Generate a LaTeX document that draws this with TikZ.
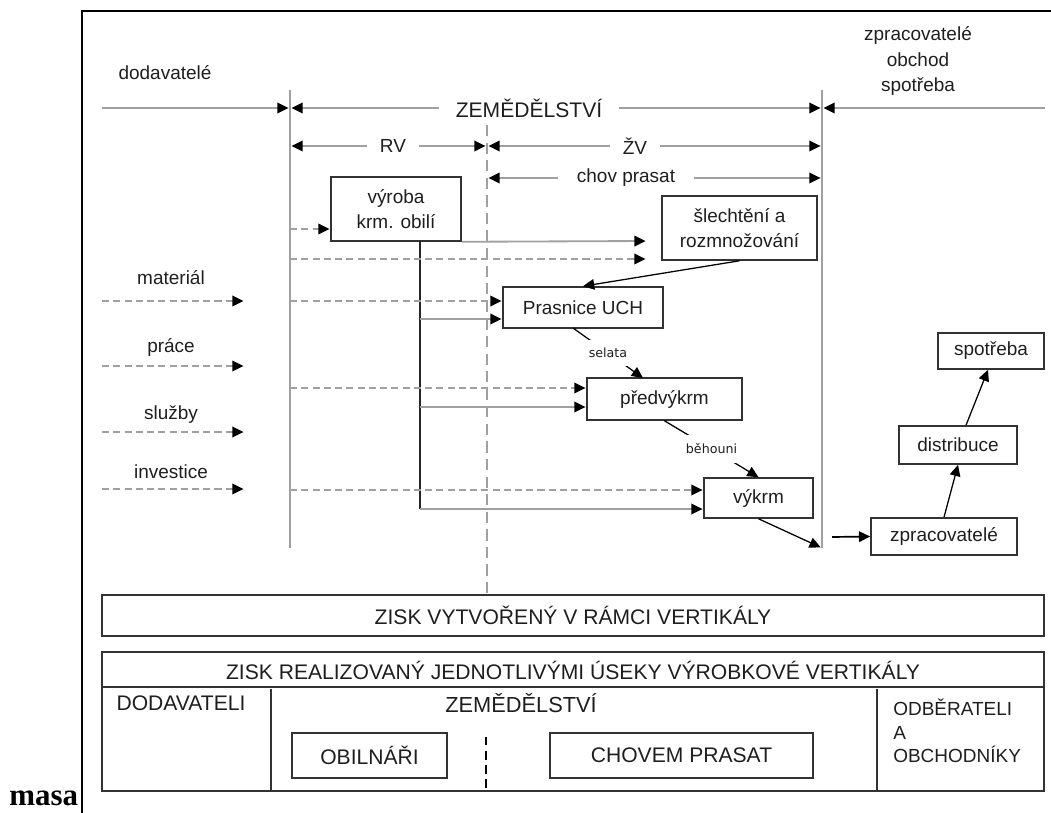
\documentclass[tikz,border=0pt]{standalone}
\usepackage{fontspec}
\setmainfont{Liberation Sans}
\newfontfamily\tagfont{DejaVu Sans}
\newfontfamily\masafont{Liberation Serif}
\usepackage{xcolor}
\definecolor{line-gray}{RGB}{160,160,160}
\definecolor{text-dark}{RGB}{30,30,30}
\usetikzlibrary{arrows.meta,positioning,calc}

\begin{document}
\begin{tikzpicture} [ % 1 jednotka = 1 px obrazku
    x=0.025cm, y=-0.025cm, text=text-dark,
    font=\fontsize{13.5}{18}\selectfont,
    tip/.style = {-{Triangle[length=8pt,width=7.5pt,color=black]}},
    gline/.style = {draw=line-gray, line width=1.3pt},
    gdash/.style = {gline, dash pattern=on 5pt off 3pt},
    garr/.style = {gline, tip, shorten >=1pt},
    gdarr/.style = {gdash, tip, shorten >=1pt},
    barr/.style = {draw=black, line width=0.9pt, tip},
    box/.style = {shape=rectangle, draw=black!80, line width=1.1pt, align=center, inner sep=2pt},
    caps/.style = {font=\fontsize{15}{18}\selectfont},
    dim/.style = {inner ysep=0pt},
    tag/.style = {fill=white, inner xsep=2pt, inner ysep=6pt, font=\tagfont\fontsize{9}{10}\selectfont}
]

\useasboundingbox (0,0) rectangle (1051,813);

% ramecek
\draw [line width=1pt] (1051,11) -- (82,11) -- (82,813);
\node [anchor=base west, inner sep=0pt, text=black, font=\masafont\bfseries\fontsize{22}{24}\selectfont] (masa) at (9,805) {masa};

% hlavicka
\node (dod) at (165,73) {dodavatelé};
\node [align=center] (zpr) at (918,61) {zpracovatelé\\obchod\\spotřeba};

% svisle cary
\coordinate (va) at (290,90);
\coordinate (vab) at (290,548);
\coordinate (vb) at (822,90);
\coordinate (vbb) at (822,548);
\coordinate (vd) at (487,125);
\coordinate (le) at (102,108);
\coordinate (re) at (1045,108);

\draw [gline] (va) -- (vab);
\draw [gline] (vb) -- (vbb);

% useky
\node [dim, caps, inner xsep=12pt] (zem) at (529,108) {ZEMĚDĚLSTVÍ};
\node [dim, inner xsep=9pt] (rv) at (393,146) {RV};
\node [dim, inner xsep=9pt] (zv) at (635,146) {ŽV};
\node [dim, inner xsep=13pt] (chov) at (626,178) {chov prasat};

\draw [garr] (le) -- (va |- zem);
\draw [garr] (zem) -- (va |- zem);
\draw [garr] (zem) -- (vb |- zem);
\draw [garr] (re) -- (vb |- zem);
\draw [garr] (rv) -- (va |- rv);
\draw [garr] (rv) -- (vd |- rv);
\draw [garr] (zv) -- (vd |- zv);
\draw [garr] (zv) -- (vb |- zv);
\draw [garr] (chov) -- (vd |- chov);
\draw [garr] (chov) -- (vb |- chov);

% bloky
\node [box, minimum width=3.25cm, minimum height=1.6cm] (vyr) at (396,209) {výroba\\krm. obilí};
\node [box, minimum width=3.875cm, minimum height=1.6cm] (sle) at (739.5,228) {šlechtění a\\rozmnožování};
\node [box, minimum width=4cm, minimum height=1.025cm] (pra) at (583,307.5) {Prasnice UCH};
\node [box, minimum width=3.875cm, minimum height=1.05cm] (pre) at (664.5,399) {předvýkrm};
\node [box, minimum width=2.725cm, minimum height=1cm] (vyk) at (758.5,498) {výkrm};
\node [box, minimum width=3.65cm, minimum height=0.925cm] (zpc) at (944,536.5) {zpracovatelé};
\node [box, minimum width=2.95cm, minimum height=0.95cm] (dis) at (958,445) {distribuce};
\node [box, minimum width=2.65cm, minimum height=0.9cm] (spo) at (991,351) {spotřeba};

% vstupy vlevo
\node (mat) at (171,278) {materiál};
\node (pra-l) at (171,347) {práce};
\node (slu) at (171,415) {služby};
\node (inv) at (171,472) {investice};

\coordinate (in1) at (102,301);  \coordinate (in1t) at (245,301);
\coordinate (in2) at (102,366);  \coordinate (in2t) at (245,366);
\coordinate (in3) at (102,432);  \coordinate (in3t) at (245,432);
\coordinate (in4) at (102,489);  \coordinate (in4t) at (245,489);

\draw [gdarr] (in1) -- (in1t);
\draw [gdarr] (in2) -- (in2t);
\draw [gdarr] (in3) -- (in3t);
\draw [gdarr] (in4) -- (in4t);

% krmivo a vstupy do bloku
\coordinate (kr) at (420,241);
\coordinate (krb) at (420,509);
\coordinate (vyr-in) at (331,229);
\coordinate (sle-a) at (647,241);
\coordinate (sle-b) at (647,259);
\coordinate (pra-a) at (503,301);
\coordinate (pra-b) at (503,319);
\coordinate (pre-a) at (587,388);
\coordinate (pre-b) at (587,407);
\coordinate (vyk-a) at (704,490);
\coordinate (vyk-b) at (704,509);

\draw [draw=black!85, line width=0.8pt] (kr) -- (krb);

\draw [gdarr] (va |- vyr-in) -- (vyr-in);
\draw [garr] (vyr.south east) -- (sle-a);
\draw [gdarr] (va |- sle-b) -- (sle-b);
\draw [gdarr] (va |- pra-a) -- (pra-a);
\draw [garr] (kr |- pra-b) -- (pra-b);
\draw [gdarr] (va |- pre-a) -- (pre-a);
\draw [garr] (kr |- pre-b) -- (pre-b);
\draw [gdarr] (va |- vyk-a) -- (vyk-a);
\draw [garr] (krb) -- (vyk-b);

% tok zvirat
\coordinate (sel-a) at (573,328);
\coordinate (sel-b) at (643,378);
\coordinate (zp-s) at (832,537);

\draw [barr] (sle.south) -- (pra.north);
\draw [barr] (sel-a) -- node [tag] {selata} (sel-b);
\draw [barr] (pre.south) -- node [tag] {běhouni} (vyk.north);
\draw [barr, shorten >=1pt] (vyk.south) -- (vbb);
\draw [barr, line width=1.2pt] (zp-s) -- (zpc.west);
\draw [barr] (zpc.north) -- (dis.south);
\draw [barr] ([xshift=0.2cm]dis.north) -- ([xshift=-0.075cm]spo.south);

% zisk
\node [box, caps, minimum width=23.55cm, minimum height=1.025cm] (zisk) at (573,615.5) {ZISK VYTVOŘENÝ V RÁMCI VERTIKÁLY};
\node [box, minimum width=23.55cm, minimum height=3.475cm] (real) at (573,721.5) {};
\node [caps] (real-t) at (573,670) {ZISK REALIZOVANÝ JEDNOTLIVÝMI ÚSEKY VÝROBKOVÉ VERTIKÁLY};

\draw [gline, dash pattern=on 8pt off 4.5pt] (vd) -- (vd |- zisk.north);

\draw [draw=black!80, line width=1.1pt] ($(real.north west)+(0,36)$) -- ($(real.north east)+(0,36)$);
\draw [draw=black!80, line width=1.1pt] ($(real.south west)+(170,0)$) -- ++(0,-103);
\draw [draw=black!80, line width=1.1pt] ($(real.south east)+(-168,0)$) -- ++(0,-103);

\node [caps] (dodav) at (181,703) {DODAVATELI};
\node [font=\fontsize{15.5}{18}\selectfont] (zem2) at (521,703) {ZEMĚDĚLSTVÍ};
\node [box, caps, minimum width=3.875cm, minimum height=1.125cm] (obi) at (369.5,755.5) {OBILNÁŘI};
\node [box, caps, minimum width=6.575cm, minimum height=1.125cm] (cho) at (681.5,755.5) {CHOVEM PRASAT};
\node [anchor=north west, inner sep=0pt, align=left, font=\fontsize{13.5}{16.5}\selectfont] (odb) at (893,699) {ODBĚRATELI\\A\\OBCHODNÍKY};

\coordinate (dl) at (486,737);
\draw [draw=black, line width=0.8pt, dash pattern=on 6pt off 4pt] (dl) -- (dl |- real.south);

\end{tikzpicture}
\end{document}
